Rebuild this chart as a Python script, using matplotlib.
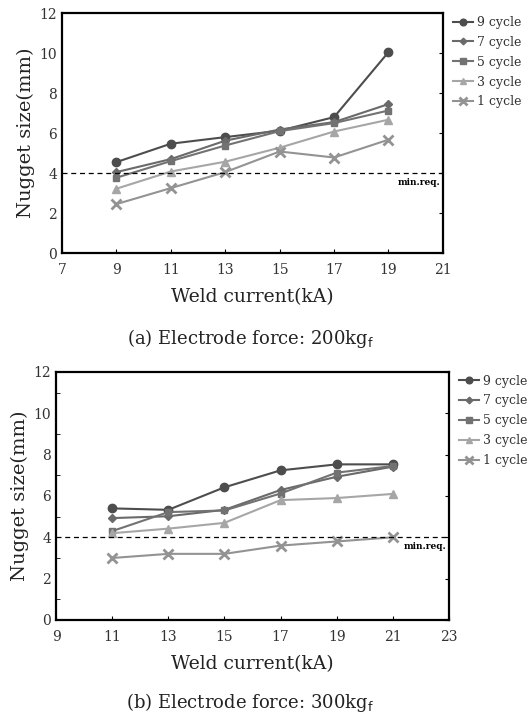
import matplotlib
matplotlib.use("Agg")
import matplotlib.pyplot as plt

plt.rcParams['font.family'] = ['DejaVu Serif']

series_names = ["9 cycle", "7 cycle", "5 cycle", "3 cycle", "1 cycle"]

current_a = [9, 11, 13, 15, 17, 19]
nugget_a = {
    "9 cycle": [4.55, 5.47, 5.8, 6.12, 6.8, 10.05],
    "7 cycle": [4.05, 4.7, 5.62, 6.18, 6.55, 7.45],
    "5 cycle": [3.77, 4.6, 5.38, 6.1, 6.5, 7.13],
    "3 cycle": [3.22, 4.08, 4.57, 5.27, 6.08, 6.67],
    "1 cycle": [2.45, 3.25, 4.05, 5.08, 4.78, 5.67],
}

current_b = [11, 13, 15, 17, 19, 21]
nugget_b = {
    "9 cycle": [5.4, 5.33, 6.42, 7.24, 7.53, 7.53],
    "7 cycle": [4.93, 5.02, 5.33, 6.29, 6.93, 7.42],
    "5 cycle": [4.3, 5.22, 5.3, 6.12, 7.13, 7.45],
    "3 cycle": [4.2, 4.42, 4.7, 5.8, 5.9, 6.1],
    "1 cycle": [3.0, 3.2, 3.2, 3.6, 3.8, 4.0],
}

min_req = 4.0

styles = {
    "9 cycle": dict(color="#4d4d4d", marker="o", ms=6),
    "7 cycle": dict(color="#6a6a6a", marker="D", ms=4.2),
    "5 cycle": dict(color="#727272", marker="s", ms=5),
    "3 cycle": dict(color="#a6a6a6", marker="^", ms=6),
    "1 cycle": dict(color="#939393", marker="x", ms=6.5, mew=2),
}

fig = plt.figure(figsize=(5.32, 7.17), dpi=100)

def draw(ax, xs, data, xlim, xticks, caption, minor_left, caption_y):
    for name in series_names:
        st = dict(styles[name])
        mew = st.pop("mew", 1.0)
        ax.plot(xs, data[name], color=st["color"], marker=st["marker"],
                markersize=st["ms"], markeredgewidth=mew, lw=1.5,
                markeredgecolor=st["color"], markerfacecolor=st["color"],
                label=name)
    ax.axhline(min_req, color="black", lw=0.9, ls=(0, (4, 3)))
    ax.text(xlim[1] - 0.08, min_req - 0.25, "min.req.", ha="right", va="top",
            fontsize=6.5, fontweight="bold")
    ax.set_xlim(*xlim)
    ax.set_ylim(0, 12)
    ax.set_xticks(xticks)
    ax.set_yticks(range(0, 13, 2))
    ax.tick_params(axis="x", direction="in", length=3, labelsize=10, pad=7,
                   colors="black", labelcolor="#333333")
    ax.tick_params(axis="y", which="major", direction="in", left=False, right=True,
                   length=3, labelsize=10, labelcolor="#333333")
    if minor_left:
        ax.set_yticks([1, 3, 5, 7, 9, 11], minor=True)
        ax.tick_params(axis="y", which="minor", direction="in", left=True,
                       right=False, length=3)
    for s in ax.spines.values():
        s.set_linewidth(1.6)
    ax.set_ylabel("Nugget size(mm)", fontsize=14, color="#222222", labelpad=3)
    ax.set_xlabel("Weld current(kA)", fontsize=13.5, color="#222222", labelpad=8)
    leg = ax.legend(loc="upper left", bbox_to_anchor=(1.0, 1.03), frameon=False,
                    fontsize=9, handlelength=1.6, handletextpad=0.3,
                    labelspacing=0.55, borderaxespad=0.4, markerscale=0.8)
    for t in leg.get_texts():
        t.set_color("#333333")
    fig.text(0.47, caption_y, caption, ha="center", va="center", fontsize=13,
             color="#222222")

ax1 = fig.add_axes([0.1165, 0.647, 0.716, 0.3347])
draw(ax1, current_a, nugget_a, (7, 21), range(7, 22, 2),
     r"(a) Electrode force: 200kg$_\mathrm{f}$", False, 1 - 338 / 717)

ax2 = fig.add_axes([0.1053, 0.1353, 0.7387, 0.3459])
draw(ax2, current_b, nugget_b, (9, 23), range(9, 24, 2),
     r"(b) Electrode force: 300kg$_\mathrm{f}$", True, 1 - 702 / 717)

fig.savefig("out.png", dpi=100)
